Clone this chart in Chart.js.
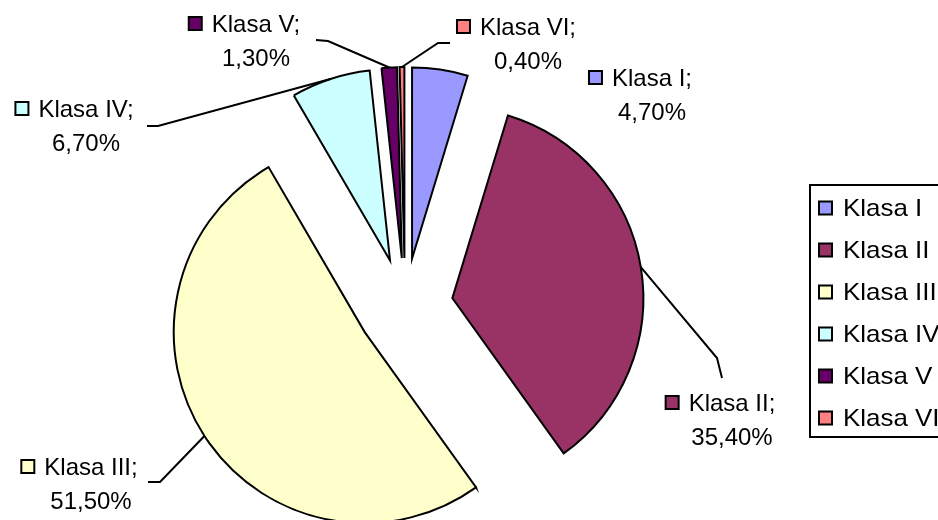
<!DOCTYPE html>
<html>
<head>
<meta charset="utf-8">
<script src="https://cdn.jsdelivr.net/npm/chart.js@4/dist/chart.umd.min.js"></script>
<style>
  html, body { margin: 0; padding: 0; background: #ffffff; overflow: hidden; }
  #wrap { width: 938px; height: 520px; position: relative; }
</style>
</head>
<body>
<div id="wrap"><canvas id="chart" width="938" height="520"></canvas></div>
<script>
// Share of pupils per class (percent)
const categories = ['Klasa I', 'Klasa II', 'Klasa III', 'Klasa IV', 'Klasa V', 'Klasa VI'];
const shares = [4.7, 35.4, 51.5, 6.7, 1.3, 0.4];
const sliceColors = ['#9999FF', '#993366', '#FFFFCC', '#CCFFFF', '#660066', '#FF8080'];

const FONT = '"Liberation Sans", Arial, sans-serif';
const explodeDistance = 48;

// Where each data label sits (text centre x, first-line baseline) and the
// bend points of its leader line, starting at the label side.
const labelLayout = [
  { x: 652, y: 86,  leader: null },
  { x: 732, y: 411, leader: [[722, 378], [717, 358]] },
  { x: 91,  y: 475, leader: [[148, 482], [160, 482]] },
  { x: 86,  y: 117, leader: [[147, 126], [158, 126]] },
  { x: 256, y: 32,  leader: [[316, 40], [328, 41]] },
  { x: 528, y: 35,  leader: [[450, 43], [438, 43]] }
];

function formatShare(v) {
  return v.toFixed(2).replace('.', ',') + '%';
}

// Pull every slice out from the centre along its bisector.
const explodePlugin = {
  id: 'explodeSlices',
  afterDatasetUpdate(chart, args) {
    const meta = chart.getDatasetMeta(args.index);
    meta.data.forEach(arc => {
      const mid = (arc.startAngle + arc.endAngle) / 2;
      arc.x += explodeDistance * Math.cos(mid);
      arc.y += explodeDistance * Math.sin(mid);
    });
  }
};

function drawMarker(ctx, x, y, size, color) {
  ctx.fillStyle = color;
  ctx.fillRect(x, y, size, size);
  ctx.lineWidth = 2;
  ctx.strokeStyle = '#000000';
  ctx.strokeRect(x, y, size, size);
}

// Data labels: coloured key, "name;" and the value on a second line.
const calloutPlugin = {
  id: 'callouts',
  afterDatasetsDraw(chart) {
    const ctx = chart.ctx;
    const meta = chart.getDatasetMeta(0);
    ctx.save();
    meta.data.forEach((arc, i) => {
      const lay = labelLayout[i];
      const mid = (arc.startAngle + arc.endAngle) / 2;
      const ex = arc.x + arc.outerRadius * Math.cos(mid);
      const ey = arc.y + arc.outerRadius * Math.sin(mid);
      if (lay.leader) {
        ctx.beginPath();
        ctx.moveTo(lay.leader[0][0], lay.leader[0][1]);
        for (let k = 1; k < lay.leader.length; k++) ctx.lineTo(lay.leader[k][0], lay.leader[k][1]);
        ctx.lineTo(ex, ey);
        ctx.lineWidth = 2;
        ctx.strokeStyle = '#000000';
        ctx.stroke();
      }
      ctx.font = '24px ' + FONT;
      ctx.fillStyle = '#000000';
      ctx.textBaseline = 'alphabetic';
      ctx.textAlign = 'center';
      const line1 = categories[i] + ';';
      const line2 = formatShare(shares[i]);
      ctx.fillText(line1, lay.x, lay.y);
      ctx.fillText(line2, lay.x, lay.y + 34);
      const w = ctx.measureText(line1).width;
      drawMarker(ctx, lay.x - w / 2 - 23, lay.y - 15, 13, sliceColors[i]);
      ctx.fillStyle = '#000000';
    });
    ctx.restore();
  }
};

// Boxed legend on the right-hand side.
const legendPlugin = {
  id: 'boxLegend',
  afterDraw(chart) {
    const ctx = chart.ctx;
    ctx.save();
    ctx.lineWidth = 2;
    ctx.strokeStyle = '#000000';
    ctx.strokeRect(810, 185, 200, 252);
    categories.forEach((name, i) => {
      const cy = 208 + 42 * i;
      drawMarker(ctx, 819, cy - 6.5, 13, sliceColors[i]);
      ctx.save();
      ctx.translate(843, cy);
      ctx.scale(1.08, 1);
      ctx.font = '24px ' + FONT;
      ctx.fillStyle = '#000000';
      ctx.textAlign = 'left';
      ctx.textBaseline = 'middle';
      ctx.fillText(name, 0, 1);
      ctx.restore();
    });
    ctx.restore();
  }
};

new Chart(document.getElementById('chart').getContext('2d'), {
  type: 'pie',
  data: {
    labels: categories,
    datasets: [{
      data: shares,
      backgroundColor: sliceColors,
      borderColor: '#000000',
      borderWidth: 2,
      borderJoinStyle: 'miter',
      radius: 191,
      offset: 0,
      hoverOffset: 0
    }]
  },
  options: {
    responsive: false,
    animation: false,
    events: [],
    layout: { padding: { left: 0, right: 128, top: 92, bottom: 0 } },
    plugins: {
      legend: { display: false },
      tooltip: { enabled: false }
    }
  },
  plugins: [explodePlugin, calloutPlugin, legendPlugin]
});
</script>
</body>
</html>
